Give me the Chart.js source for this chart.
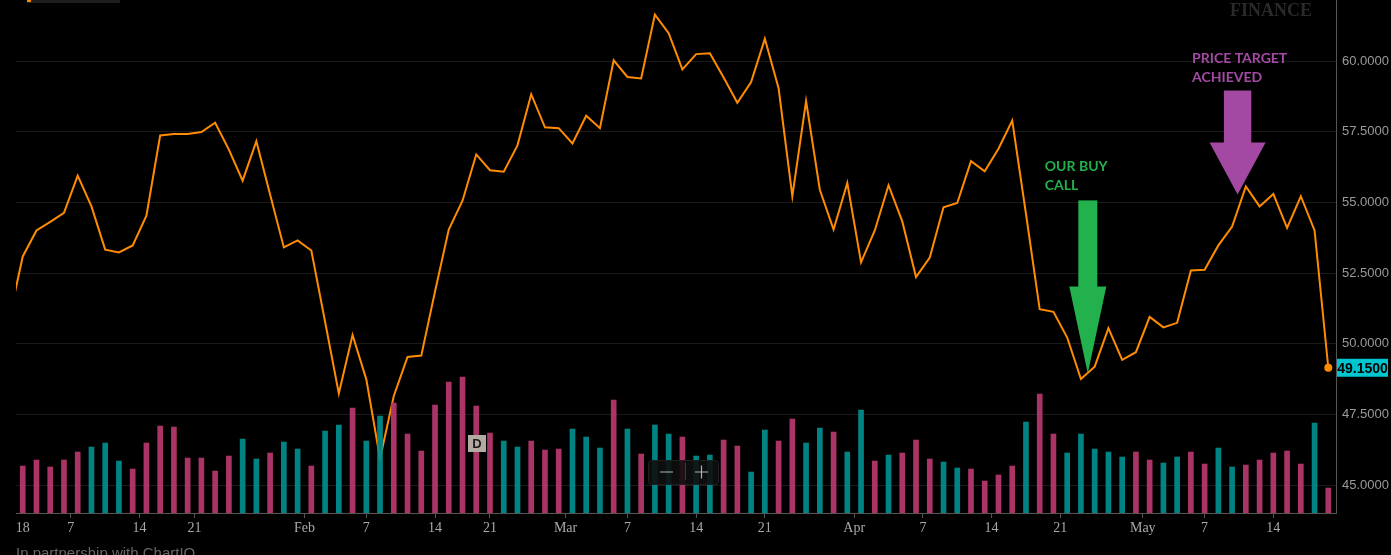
<!DOCTYPE html>
<html>
<head>
<meta charset="utf-8">
<title>Price and volume</title>
<script src="https://cdn.jsdelivr.net/npm/chart.js@4.4.1/dist/chart.umd.min.js"></script>
<style>
  html, body { margin: 0; padding: 0; background: #000; }
  #wrap { position: relative; width: 1391px; height: 555px; }
</style>
</head>
<body>
<div id="wrap"><canvas id="myChart"></canvas></div>
<script>
// trading sessions Jan 2 - May 18 2018, one value per session
const prevClose = 50.85;
const closes = [
  53.09, 54.01, 54.31, 54.63, 55.95, 54.86, 53.33, 53.23, 53.48, 54.53,
  57.37, 57.42, 57.42, 57.49, 57.82, 56.87, 55.77, 57.17, 55.28, 53.41,
  53.66, 53.30, 50.78, 48.24, 50.31, 48.74, 45.94, 48.15, 49.53, 49.58,
  51.85, 54.04, 55.06, 56.70, 56.14, 56.09, 57.02, 58.83, 57.66, 57.63,
  57.09, 58.07, 57.63, 60.03, 59.44, 59.39, 61.65, 60.99, 59.71, 60.25,
  60.28, 59.42, 58.53, 59.26, 60.79, 59.04, 55.22, 58.59, 55.45, 54.04,
  55.69, 52.88, 54.01, 55.61, 54.33, 52.36, 53.05, 54.83, 54.98, 56.46,
  56.10, 56.90, 57.90, 54.60, 51.22, 51.13, 50.22, 48.75, 49.19, 50.55,
  49.43, 49.70, 50.95, 50.58, 50.74, 52.59, 52.62, 53.48, 54.15, 55.57,
  54.86, 55.30, 54.10, 55.22, 54.01, 49.15
];
// volume, millions
const volumes = [
  4.7, 5.3, 4.6, 5.3, 6.1, 6.6, 7.0, 5.2, 4.4, 7.0,
  8.7, 8.6, 5.5, 5.5, 4.2, 5.7, 7.4, 5.4, 6.0, 7.1,
  6.4, 4.7, 8.2, 8.8, 10.5, 7.2, 9.7, 11.0, 7.9, 6.2,
  10.8, 13.1, 13.6, 10.7, 8.0, 7.2, 6.6, 7.2, 6.3, 6.4,
  8.4, 7.6, 6.5, 11.3, 8.4, 5.9, 8.8, 7.9, 7.6, 5.7,
  5.8, 7.3, 6.7, 4.1, 8.3, 7.2, 9.4, 7.0, 8.5, 8.1,
  6.1, 10.3, 5.2, 5.8, 6.0, 7.3, 5.4, 5.1, 4.5, 4.4,
  3.2, 3.8, 4.7, 9.1, 11.9, 7.9, 6.0, 7.9, 6.4, 6.1,
  5.6, 6.1, 5.3, 5.0, 5.6, 6.1, 4.9, 6.5, 4.6, 4.8,
  5.3, 6.0, 6.2, 4.9, 9.0, 2.5
];
// u = up session (teal), d = down session (pink)
const sides = (
  'ddddduuudddddddduuduuduuduudddddd' +
  'dduuddduuududuuduudduudduuduudud' +
  'dduuddddudduuuuudduudduudddddududuu'
).split('');
const xTickLabels = ['18', '7', '14', '21', 'Feb', '7', '14', '21', 'Mar', '7', '14', '21', 'Apr', '7', '14', '21', 'May', '7', '14'];
const xTickAt = [0, 3.5, 8.5, 12.5, 20.5, 25, 30, 34, 39.5, 44, 49, 54, 60.5, 65.5, 70.5, 75.5, 81.5, 86, 91];
const yTickValues = [45, 47.5, 50, 52.5, 55, 57.5, 60];

const upColor = 'rgba(0,142,142,0.92)';
const downColor = 'rgba(184,56,110,0.92)';

const linePoints = [{x: -1, y: prevClose}].concat(closes.map((v, i) => ({x: i, y: v})));
const volPoints = volumes.map((v, i) => ({x: i, y: v}));
const volColors = volumes.map((v, i) => sides[i] === 'u' ? upColor : downColor);
const lastIdx = linePoints.length - 1;

function drawArrow(ctx, tipX, tipY, shaftHalf, shaftLen, headHalf, headLen, color) {
  ctx.fillStyle = color;
  ctx.fillRect(tipX - shaftHalf, tipY - headLen - shaftLen, shaftHalf * 2, shaftLen + 1);
  ctx.beginPath();
  ctx.moveTo(tipX - headHalf, tipY - headLen);
  ctx.lineTo(tipX + headHalf, tipY - headLen);
  ctx.lineTo(tipX, tipY);
  ctx.closePath();
  ctx.fill();
}

const extras = {
  id: 'extras',
  beforeDraw(chart) {
    const ctx = chart.ctx;
    ctx.save();
    ctx.fillStyle = '#000';
    ctx.fillRect(0, 0, chart.width, chart.height);
    // watermark
    ctx.fillStyle = '#2a2a2a';
    ctx.font = 'bold 18px "Liberation Serif"';
    ctx.textBaseline = 'middle';
    ctx.fillText('FINANCE', 1230, 11);
    // top-left panel edge
    ctx.fillStyle = '#1e1e1e';
    ctx.fillRect(27, 0, 93, 3);
    ctx.fillStyle = '#ff8c00';
    ctx.fillRect(27, 0, 4, 2);
    ctx.restore();
  },
  afterDraw(chart) {
    const ctx = chart.ctx;
    const xs = chart.scales.x, ys = chart.scales.y;
    ctx.save();

    // annotations
    let tx = xs.getPixelForValue(77.5), ty = ys.getPixelForValue(48.95);
    drawArrow(ctx, tx, ty, 9.5, 86, 18.5, 87, '#22b14c');
    ctx.font = 'bold 14px Lato';
    ctx.textBaseline = 'middle';
    ctx.fillText('OUR BUY', tx - 43, ty - 207);
    ctx.fillText('CALL', tx - 43, ty - 188);

    tx = xs.getPixelForValue(88.4); ty = ys.getPixelForValue(55.28);
    drawArrow(ctx, tx, ty, 13.7, 52, 28, 52, '#a349a4');
    ctx.fillText('PRICE TARGET', tx - 45.5, ty - 136);
    ctx.fillText('ACHIEVED', tx - 45.5, ty - 117);

    // D badge
    ctx.fillStyle = '#b3aba3';
    ctx.fillRect(468, 435, 18, 17);
    ctx.fillStyle = '#1a1a1a';
    ctx.font = 'bold 13px "Liberation Sans"';
    ctx.textAlign = 'center';
    ctx.fillText('D', 477, 444);

    // zoom control
    ctx.fillStyle = 'rgba(14,14,14,0.9)';
    ctx.strokeStyle = '#1f1f1f';
    ctx.beginPath();
    ctx.roundRect(648.5, 460.5, 70, 24, 3);
    ctx.fill();
    ctx.stroke();
    ctx.strokeStyle = '#3a3a3a';
    ctx.beginPath();
    ctx.moveTo(685.5, 463); ctx.lineTo(685.5, 480);
    ctx.stroke();
    ctx.strokeStyle = '#b0b0b0';
    ctx.lineWidth = 1.2;
    ctx.beginPath();
    ctx.moveTo(660, 472); ctx.lineTo(673, 472);
    ctx.moveTo(695, 472); ctx.lineTo(708, 472);
    ctx.moveTo(701.5, 465.5); ctx.lineTo(701.5, 478.5);
    ctx.stroke();

    // last price tag
    const last = closes[closes.length - 1];
    const py = ys.getPixelForValue(last);
    ctx.fillStyle = '#00c6d0';
    ctx.fillRect(1337, py - 9, 51, 18);
    ctx.fillStyle = '#000';
    ctx.font = 'bold 14px "Liberation Sans"';
    ctx.textAlign = 'center';
    ctx.fillText(last.toFixed(4), 1362.5, py + 1);

    // footer
    ctx.fillStyle = '#666';
    ctx.font = '15px "Liberation Sans"';
    ctx.textAlign = 'left';
    ctx.textBaseline = 'top';
    ctx.fillText('In partnership with ChartIQ', 16, 546);
    ctx.restore();
  }
};

new Chart('myChart', {
  data: {
    datasets: [
      {
        type: 'bar',
        data: volPoints,
        yAxisID: 'v',
        backgroundColor: volColors,
        barThickness: 5,
        order: 0
      },
      {
        type: 'line',
        data: linePoints,
        yAxisID: 'y',
        borderColor: '#ff8c00',
        borderWidth: 2,
        tension: 0,
        clip: 0,
        pointRadius: ctx => ctx.dataIndex === lastIdx ? 4 : 0,
        pointBackgroundColor: '#ff8c00',
        pointBorderWidth: 0,
        order: 1
      }
    ]
  },
  options: {
    responsive: true,
    maintainAspectRatio: false,
    animation: false,
    devicePixelRatio: 1,
    layout: { autoPadding: false, padding: { left: 16, top: 0, right: 0, bottom: 0 } },
    plugins: { legend: { display: false }, tooltip: { enabled: false } },
    scales: {
      x: {
        type: 'linear',
        offset: false,
        min: -0.49,
        max: 95.56,
        afterBuildTicks: axis => { axis.ticks = xTickAt.map(v => ({value: v})); },
        afterFit: axis => { axis.height = 42; axis.paddingLeft = 0; axis.paddingRight = 0; },
        grid: {
          offset: false,
          drawOnChartArea: false,
          drawTicks: true,
          tickLength: 5,
          tickColor: ctx => ctx.index === 0 ? 'rgba(0,0,0,0)' : '#555'
        },
        border: { color: '#555', width: 1 },
        ticks: {
          autoSkip: false,
          maxRotation: 0,
          padding: 2,
          color: '#a8a8a8',
          font: { family: '"Liberation Serif"', size: 14 },
          callback: (v, i) => xTickLabels[i]
        }
      },
      y: {
        position: 'right',
        min: 44.01,
        max: 62.165,
        afterBuildTicks: axis => { axis.ticks = yTickValues.map(v => ({value: v})); },
        afterFit: axis => { axis.width = 55; axis.paddingTop = 0; axis.paddingBottom = 0; },
        grid: { color: '#1a1a1a', drawTicks: false },
        border: { color: '#555', width: 1 },
        ticks: {
          padding: 6,
          color: '#9a9a9a',
          font: { family: '"Liberation Sans"', size: 13 },
          callback: v => v.toFixed(4)
        }
      },
      v: {
        display: false,
        min: 0,
        max: 51.33
      }
    }
  },
  plugins: [extras]
});
</script>
</body>
</html>
